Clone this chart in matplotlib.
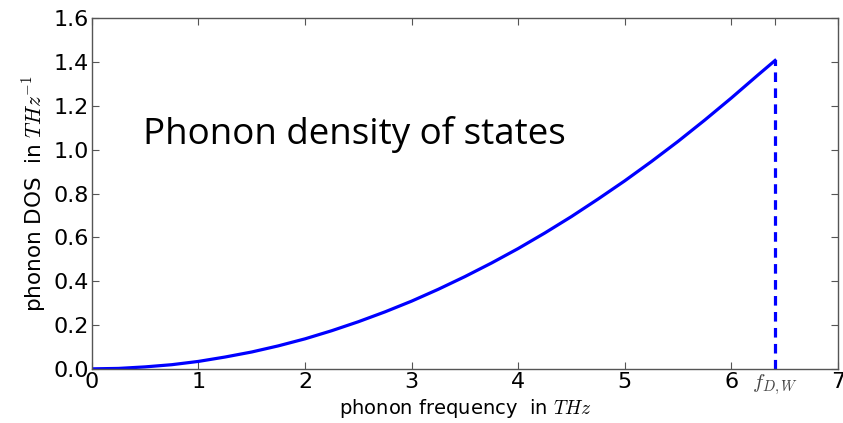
import numpy as np
import matplotlib.pyplot as plt

plt.rcParams['mathtext.fontset'] = 'cm'

freq = [0.0, 0.25, 0.5, 0.75, 1.0, 1.25, 1.5, 1.75, 2.0, 2.25, 2.5, 2.75,
        3.0, 3.25, 3.5, 3.75, 4.0, 4.25, 4.5, 4.75, 5.0, 5.25, 5.5, 5.75,
        6.0, 6.25, 6.41]
dos = [0.0, 0.002, 0.009, 0.019, 0.034, 0.054, 0.077, 0.105, 0.137, 0.174,
       0.215, 0.260, 0.309, 0.363, 0.421, 0.483, 0.549, 0.620, 0.695, 0.775,
       0.858, 0.946, 1.038, 1.135, 1.236, 1.341, 1.407]
f_debye = 6.41
x_ticks = [0, 1, 2, 3, 4, 5, 6, f_debye, 7]
x_ticklabels = ['0', '1', '2', '3', '4', '5', '6', r'$f_{D,W}$', '7']
y_ticks = [0.0, 0.2, 0.4, 0.6, 0.8, 1.0, 1.2, 1.4, 1.6]

fig = plt.figure(figsize=(8.43, 4.23), dpi=100)
ax = fig.add_axes([0.109, 0.128, 0.885, 0.829])

ax.plot(freq, dos, color='#0000ff', lw=2.3)
ax.plot([f_debye, f_debye], [0, dos[-1]], color='#0000ff', lw=2.3, ls='--',
        dashes=(3, 2))

ax.set_xlim(0, 7)
ax.set_ylim(0, 1.6)
ax.set_xticks(x_ticks)
ax.set_xticklabels(x_ticklabels)
ax.set_yticks(y_ticks)
ax.set_yticklabels(['%.1f' % v for v in y_ticks])
ax.tick_params(direction='in', top=True, right=True, length=5, width=0.8,
               color='#555555', labelsize=16, pad=2)
for lab in ax.get_xticklabels():
    if 'D,W' in lab.get_text():
        lab.set_color('#444444')
        lab.set_fontsize(15)
for s in ax.spines.values():
    s.set_color('#555555')
    s.set_linewidth(1.0)

ax.set_xlabel(r'phonon frequency  in $THz$', fontsize=14, labelpad=0)
ax.set_ylabel(r'phonon DOS  in $THz^{-1}$', fontsize=15.5, labelpad=4)

ax.text(0.48, 1.07, 'Phonon density of states', fontsize=26.5,
        family='Open Sans', va='center', ha='left')

fig.savefig('out.png', dpi=100)
